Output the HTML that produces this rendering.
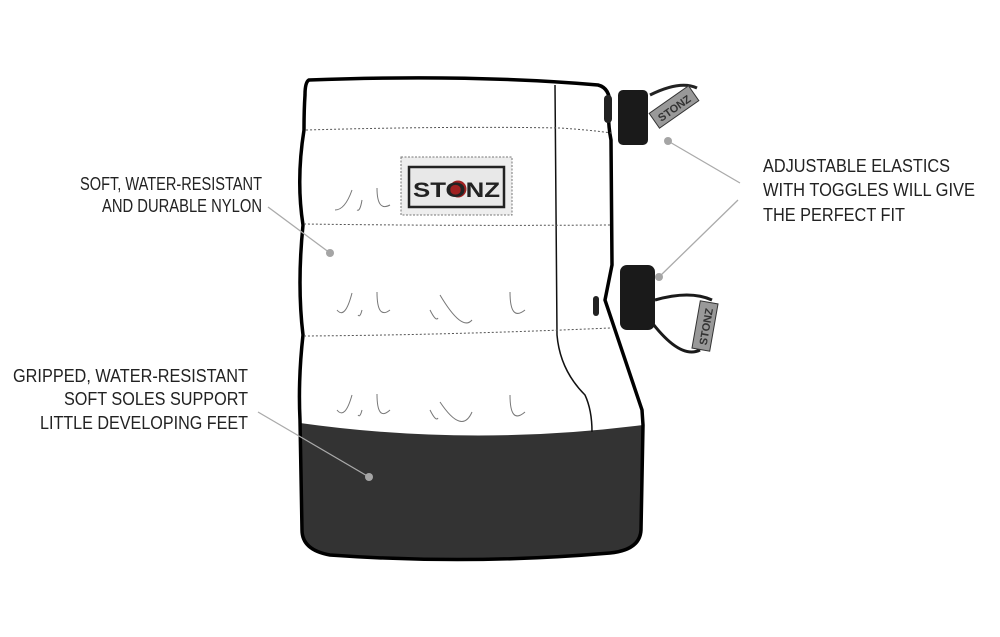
<!DOCTYPE html>
<html><head><style>html,body{margin:0;padding:0;background:#fff}svg{display:block}</style></head>
<body>
<svg width="1000" height="637" viewBox="0 0 1000 637" xmlns="http://www.w3.org/2000/svg">
<g font-family="Liberation Sans, sans-serif" font-size="18" fill="#222">
<text x="80" y="190" textLength="182" lengthAdjust="spacingAndGlyphs">SOFT, WATER-RESISTANT</text>
<text x="102" y="212" textLength="160" lengthAdjust="spacingAndGlyphs">AND DURABLE NYLON</text>
<text x="13" y="382" textLength="235" lengthAdjust="spacingAndGlyphs">GRIPPED, WATER-RESISTANT</text>
<text x="64" y="405" textLength="184" lengthAdjust="spacingAndGlyphs">SOFT SOLES SUPPORT</text>
<text x="40" y="429" textLength="208" lengthAdjust="spacingAndGlyphs">LITTLE DEVELOPING FEET</text>
<text x="763" y="172" textLength="187" lengthAdjust="spacingAndGlyphs">ADJUSTABLE ELASTICS</text>
<text x="763" y="196" textLength="212" lengthAdjust="spacingAndGlyphs">WITH TOGGLES WILL GIVE</text>
<text x="763" y="221" textLength="142" lengthAdjust="spacingAndGlyphs">THE PERFECT FIT</text>
</g>
<path d="M300,423 Q470,447 643,425 L641,530 Q640,550 610,553 Q470,565 330,555 Q302,550 302,530 Z" fill="#333"/>
<path d="M309,80 Q470,74 598,85 Q610,88 610,105 Q607,120 611,140 L612,265 Q608,285 605,300 Q625,360 642,410 L643,425 L641,530 Q640,550 610,553 Q470,565 330,555 Q302,550 302,530 L300,420 Q298,380 303,335 Q297,285 303,225 Q296,180 304,130 Q304,110 305,95 Q305,82 309,80 Z" fill="none" stroke="#000" stroke-width="3.5"/>
<path d="M555,85 L557,335 Q560,370 585,395 Q592,410 592,432" fill="none" stroke="#111" stroke-width="1.5"/>
<g stroke="#555" stroke-width="1" stroke-dasharray="2,2" fill="none">
<path d="M306,130 Q450,126 560,128 Q590,130 612,133"/>
<path d="M304,224 Q450,226 612,225"/>
<path d="M304,336 Q450,335 610,328"/>
</g>
<g stroke="#777" stroke-width="1" fill="none">
<path d="M352,190 Q345,210 335,210 M362,200 Q360,212 357,210 M377,188 Q377,212 390,205"/>
<path d="M352,293 Q345,320 337,310 M362,310 Q360,318 358,315 M377,292 Q377,320 390,310 M430,310 Q436,322 438,318 M440,295 Q462,332 472,320 M510,292 Q510,322 525,310"/>
<path d="M352,395 Q345,420 337,410 M362,410 Q360,418 358,415 M377,394 Q377,422 390,410 M430,410 Q436,422 438,418 M440,402 Q462,435 472,412 M510,395 Q510,425 525,412"/>
</g>
<rect x="401" y="157" width="111" height="58" fill="#eee" stroke="#777" stroke-dasharray="2,1.5"/>
<rect x="409" y="167" width="95" height="40" fill="#e8e8e8" stroke="#222" stroke-width="2.5"/>
<circle cx="458" cy="189" r="8.5" fill="#a02020"/>
<text x="413" y="197" font-family="Liberation Sans, sans-serif" font-weight="bold" font-size="21" fill="#222" textLength="87" lengthAdjust="spacingAndGlyphs">STONZ</text>
<rect x="604" y="95" width="8" height="28" rx="4" fill="#222"/>
<rect x="618" y="90" width="30" height="55" rx="5" fill="#1a1a1a"/>
<path d="M650,95 Q680,80 697,88" stroke="#222" stroke-width="3" fill="none"/>
<g transform="translate(674,107) rotate(-35)"><rect x="-24" y="-9" width="48" height="18" fill="#999" stroke="#333"/><text x="-19" y="5" font-family="Liberation Sans, sans-serif" font-size="11" font-weight="bold" fill="#333">STONZ</text></g>
<rect x="593" y="296" width="6" height="20" rx="3" fill="#222"/>
<rect x="620" y="265" width="35" height="65" rx="7" fill="#1a1a1a"/>
<path d="M655,300 Q690,290 712,300 M650,320 Q680,360 700,350" stroke="#1a1a1a" stroke-width="3" fill="none"/>
<g transform="translate(705,326) rotate(-80)"><rect x="-24" y="-9" width="48" height="18" fill="#999" stroke="#333"/><text x="-19" y="5" font-family="Liberation Sans, sans-serif" font-size="11" font-weight="bold" fill="#333">STONZ</text></g>
<g stroke="#aaa" stroke-width="1.3">
<line x1="268" y1="207" x2="330" y2="253"/>
<line x1="258" y1="412" x2="369" y2="477"/>
<line x1="740" y1="183" x2="668" y2="141"/>
<line x1="738" y1="200" x2="659" y2="277"/>
</g>
<g fill="#a5a5a5"><circle cx="330" cy="253" r="4"/><circle cx="369" cy="477" r="4"/><circle cx="668" cy="141" r="4"/><circle cx="659" cy="277" r="4"/></g>
</svg>
</body></html>
